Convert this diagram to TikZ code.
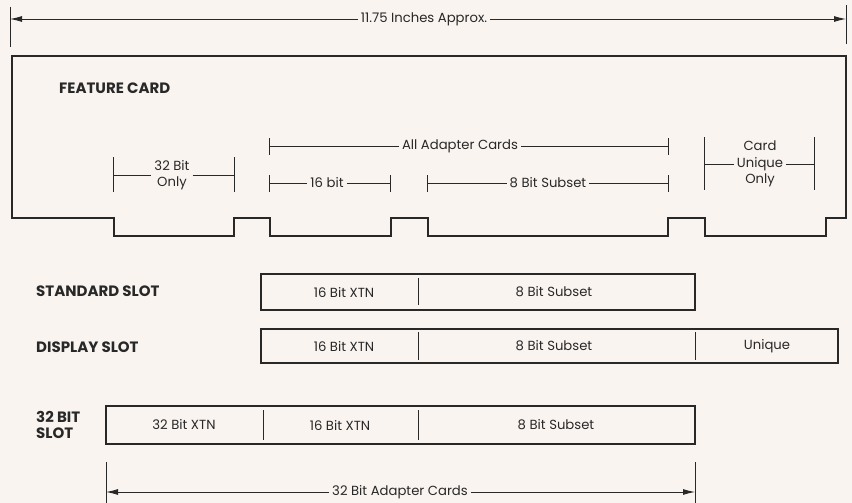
\documentclass[tikz,border=0pt]{standalone}
\usepackage{fontspec}
\setmainfont{Poppins}
\usetikzlibrary{arrows.meta}
\definecolor{ink}{RGB}{40,40,40}
\definecolor{paper}{RGB}{249,244,240}
\tikzset{
  outline/.style={draw=ink, line width=1.3pt},
  dimline/.style={draw=ink, line width=0.9pt},
  tick/.style={draw=ink, line width=1pt},
  lbl/.style={text=ink, font=\fontsize{13.2}{16.5}\selectfont, inner sep=3pt, align=center},
  heading/.style={text=ink, font=\fontsize{15}{16}\selectfont\bfseries, anchor=west, inner sep=0pt, align=left},
  slotbox/.style={draw=ink, line width=1.1pt},
  arr/.style={-{Latex[length=12pt,width=6pt]}},
}
\begin{document}
\begin{tikzpicture}[x=1pt, y=-1pt]

    \fill[paper] (0,0) rectangle (852,503);
    \useasboundingbox (0,0) rectangle (852,503);

    % overall length
    \draw[tick] (10,7) -- (10,47) (846,5) -- (846,44);
    \coordinate (lenL) at (10,19);
    \coordinate (lenR) at (846,19);
    \node[lbl] (len) at (424,19) {11.75 Inches Approx.};
    \draw[dimline, arr] (len) -- (lenL);
    \draw[dimline, arr] (len) -- (lenR);

    % outline
    \draw[outline] (12,56) -| (846,218) -| (826,236) -| (705,218) -| (668,236)
        -| (428,218) -| (391,236) -| (270,218) -| (234,236) -| (114,218)
        -| (12,56) -- cycle;
    \node[heading] (feature) at (59,88) {FEATURE CARD};

    % card sections
    \draw[tick] (113,157) -- (113,192) (234,157) -- (234,192);
    \node[lbl] (only32) at (172,175) {32 Bit\\Only};
    \draw[dimline] (113,175) -- (only32) -- (234,175);

    \draw[tick] (269,138) -- (269,155) (668,138) -- (668,155);
    \node[lbl] (alladapt) at (460,146) {All Adapter Cards};
    \draw[dimline] (269,146) -- (alladapt) -- (668,146);

    \draw[tick] (269,175) -- (269,192) (390,175) -- (390,192);
    \node[lbl] (bit16) at (327,183) {16 bit};
    \draw[dimline] (269,183) -- (bit16) -- (390,183);

    \draw[tick] (427,175) -- (427,192) (668,175) -- (668,192);
    \node[lbl] (bit8) at (548,183) {8 Bit Subset};
    \draw[dimline] (427,183) -- (bit8) -- (668,183);

    \draw[tick] (704,137) -- (704,190) (814,137) -- (814,190);
    \node[lbl] (unique) at (760,164) {Card\\Unique\\Only};
    \draw[dimline] (704,164) -- (unique) -- (814,164);

    % standard slot
    \node[heading] (stdslot) at (36,291) {STANDARD SLOT};
    \draw[slotbox] (261,274) rectangle (695,310);
    \draw[tick] (418,278) -- (418,305);
    \node[lbl] (stdxtn) at (344,292) {16 Bit XTN};
    \node[lbl] (stdsub) at (554,292) {8 Bit Subset};

    % display slot
    \node[heading] (dspslot) at (36,347) {DISPLAY SLOT};
    \draw[slotbox] (261,329) rectangle (838,363);
    \draw[tick] (418,332) -- (418,360) (695,332) -- (695,360);
    \node[lbl] (dspxtn) at (344,346) {16 Bit XTN};
    \node[lbl] (dspsub) at (554,346) {8 Bit Subset};
    \node[lbl] (dspuniq) at (767,346) {Unique};

    % 32 bit slot
    \node[heading] (slot32) at (36,425) {32 BIT\\SLOT};
    \draw[slotbox] (106,406) rectangle (695,444);
    \draw[tick] (263,410) -- (263,440) (418,410) -- (418,440);
    \node[lbl] (xtn32) at (184,425) {32 Bit XTN};
    \node[lbl] (xtn16) at (340,425) {16 Bit XTN};
    \node[lbl] (sub8) at (556,425) {8 Bit Subset};

    % 32 bit card length
    \draw[tick] (106,462) -- (106,503) (695,462) -- (695,503);
    \coordinate (c32L) at (106,492);
    \coordinate (c32R) at (695,492);
    \node[lbl] (cards32) at (400,492) {32 Bit Adapter Cards};
    \draw[dimline, arr] (cards32) -- (c32L);
    \draw[dimline, arr] (cards32) -- (c32R);
    \end{tikzpicture}
\end{document}
